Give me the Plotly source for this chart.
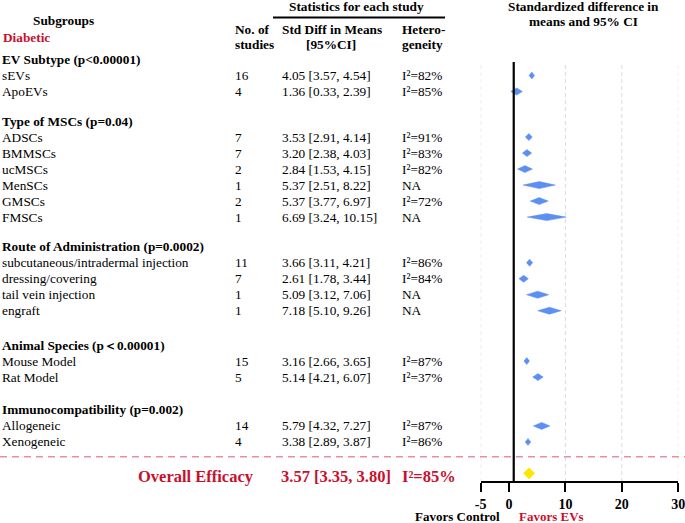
"""
Forest plot: subgroup analysis of EV therapy in diabetic wound models.
Left side is a text table, right side the standardized mean difference panel.
"""

import plotly.graph_objects as go

# DATA
GROUPS = ["EV Subtype (p<0.00001)", "Type of MSCs (p=0.04)",
          "Route of Administration (p=0.0002)", "Animal Species (p\uff1c0.00001)",
          "Immunocompatibility (p=0.002)"]
GROUP_SIZES = [2, 6, 4, 2, 2]
SUBGROUPS = ["sEVs", "ApoEVs",
             "ADSCs", "BMMSCs", "ucMSCs", "MenSCs", "GMSCs", "FMSCs",
             "subcutaneous/intradermal injection", "dressing/covering",
             "tail vein injection", "engraft",
             "Mouse Model", "Rat Model",
             "Allogeneic", "Xenogeneic"]
N_STUDIES = [16, 4, 7, 7, 2, 1, 2, 1, 11, 7, 1, 1, 15, 5, 14, 4]
SMD = [4.05, 1.36, 3.53, 3.20, 2.84, 5.37, 5.37, 6.69, 3.66, 2.61, 5.09, 7.18, 3.16, 5.14, 5.79, 3.38]
CI_LO = [3.57, 0.33, 2.91, 2.38, 1.53, 2.51, 3.77, 3.24, 3.11, 1.78, 3.12, 5.10, 2.66, 4.21, 4.32, 2.89]
CI_HI = [4.54, 2.39, 4.14, 4.03, 4.15, 8.22, 6.97, 10.15, 4.21, 3.44, 7.06, 9.26, 3.65, 6.07, 7.27, 3.87]
HETERO = ["I\u00b2=82%", "I\u00b2=85%", "I\u00b2=91%", "I\u00b2=83%", "I\u00b2=82%", "NA", "I\u00b2=72%", "NA",
          "I\u00b2=86%", "I\u00b2=84%", "NA", "NA", "I\u00b2=87%", "I\u00b2=37%", "I\u00b2=87%", "I\u00b2=86%"]
OVERALL_SMD = 3.57
OVERALL_LO = 3.35
OVERALL_HI = 3.80
OVERALL_HET = "I\u00b2=85%"
X_TICKS = [-5, 0, 10, 20, 30]
GRID_AT = [-5, 10, 20, 30]

# LAYOUT CONSTANTS (pixels of the 685x523 page)
W, H = 685, 523
ROW_PX = 16.0
ROW0_PX = 59.5
AXIS_PX = 481.0
GROUP_GAP = [0, 1.85, 1.85, 2.15, 2.05]
FONT = "Liberation Serif"
RED = "#C8102E"
BLUE = "#5B8FF0"


def row(px):
    return (px - ROW0_PX) / ROW_PX


def px_x(px):
    return px / W


# work out the row of every header and subgroup
header_rows, item_rows = [], []
r = 0.0
for gi, size in enumerate(GROUP_SIZES):
    r += GROUP_GAP[gi]
    header_rows.append(r)
    for k in range(size):
        r += 1
        item_rows.append(r)

overall_row = row(476.5)
dash_row = row(456.7)

fig = go.Figure()

# diamonds for each subgroup
for y, est, lo, hi in zip(item_rows, SMD, CI_LO, CI_HI):
    h = 0.22
    fig.add_trace(go.Scatter(
        x=[lo, est, hi, est, lo], y=[y, y - h, y, y + h, y],
        mode="lines", fill="toself", fillcolor=BLUE,
        line=dict(color=BLUE, width=0.5), hoverinfo="skip", showlegend=False))

# overall effect
fig.add_trace(go.Scatter(
    x=[OVERALL_SMD], y=[row(473.3)], mode="markers",
    marker=dict(symbol="diamond", size=9, color="#FFE600"),
    showlegend=False, hoverinfo="skip"))

ann = []


def txt(x_px, y, s, size=13.3, color="black", bold=False, anchor="left", yref="y"):
    ann.append(dict(x=px_x(x_px), xref="paper", y=y, yref=yref,
                    text=f"<b>{s}</b>" if bold else s, showarrow=False,
                    xanchor=anchor, yanchor="middle",
                    font=dict(family=FONT, size=size, color=color)))


# header
txt(356, row(6), "Statistics for each study", bold=True, anchor="center")
txt(64, row(20), "Subgroups", bold=True, anchor="center")
txt(1, row(37.5), "Diabetic", bold=True, color=RED)
txt(233, row(29), "No. of", bold=True)
txt(233, row(44), "studies", bold=True)
txt(332, row(29), "Std Diff in Means", bold=True, anchor="center")
txt(331, row(44), "[95%CI]", bold=True, anchor="center")
txt(400, row(29), "Hetero-", bold=True)
txt(400, row(44), "geneity", bold=True)
txt(583, row(6), "Standardized difference in", bold=True, anchor="center")
txt(583, row(21.5), "means and 95% CI", bold=True, anchor="center")

for g, y in zip(GROUPS, header_rows):
    txt(0, y, g, bold=True)

for name, n, est, lo, hi, het, y in zip(SUBGROUPS, N_STUDIES, SMD, CI_LO, CI_HI, HETERO, item_rows):
    txt(0, y, name)
    txt(233, y, str(n))
    txt(280, y, f"{est:.2f} [{lo:.2f}, {hi:.2f}]")
    txt(400, y, het)

txt(136, overall_row, "Overall Efficacy", size=16.5, color=RED, bold=True)
txt(279, overall_row, f"{OVERALL_SMD:.2f} [{OVERALL_LO:.2f}, {OVERALL_HI:.2f}]", size=16.5, color=RED, bold=True)
txt(400, overall_row, OVERALL_HET, size=16.5, color=RED, bold=True)

txt(502, (H - 516.5) / H, "Favors Control", bold=True, anchor="right", size=13, yref="paper")
txt(517, (H - 516.5) / H, "Favors EVs", bold=True, color=RED, size=13, yref="paper")

shapes = []
# dashed grid lines in the forest panel
for gx in GRID_AT:
    shapes.append(dict(type="line", xref="x", yref="y", x0=gx, x1=gx,
                       y0=row(65), y1=row(AXIS_PX),
                       line=dict(color="#DADADA", width=1, dash="4px,3px")))
# no-effect line
shapes.append(dict(type="line", xref="x", yref="y", x0=0.85, x1=0.85,
                   y0=row(62), y1=row(AXIS_PX), line=dict(color="black", width=2.2)))
# underline of the statistics header
shapes.append(dict(type="line", xref="paper", yref="y", x0=px_x(273), x1=px_x(445),
                   y0=row(17.5), y1=row(17.5), line=dict(color="black", width=2)))
# red dashed separator above the overall row
shapes.append(dict(type="line", xref="paper", yref="y", x0=0, x1=1,
                   y0=dash_row, y1=dash_row,
                   line=dict(color="#E8909A", width=1.6, dash="7px,5px")))

fig.update_layout(
    width=W, height=H,
    margin=dict(l=0, r=0, t=0, b=0, autoexpand=False),
    paper_bgcolor="white", plot_bgcolor="white",
    showlegend=False,
    annotations=ann, shapes=shapes,
    xaxis=dict(domain=[480.7 / W, 678.3 / W], range=[-5, 30],
               tickvals=X_TICKS, ticktext=[str(t) for t in X_TICKS],
               ticks="outside", ticklen=9, tickwidth=2, tickcolor="black",
               ticklabeloverflow="allow", automargin=False,
               showline=True, linewidth=2, linecolor="black",
               showgrid=False, zeroline=False, fixedrange=True,
               tickfont=dict(family=FONT, size=14, color="black", weight="bold")),
    yaxis=dict(domain=[(H - AXIS_PX) / H, 1], range=[row(AXIS_PX), row(0)],
               visible=False, showgrid=False, zeroline=False, fixedrange=True,
               automargin=False),
)

# the page body has an 8px default margin; drop it so the figure fills the window
fig.write_html("out.html", config={"displayModeBar": False},
               post_script="document.body.style.margin='0px';document.body.style.overflow='hidden';")
